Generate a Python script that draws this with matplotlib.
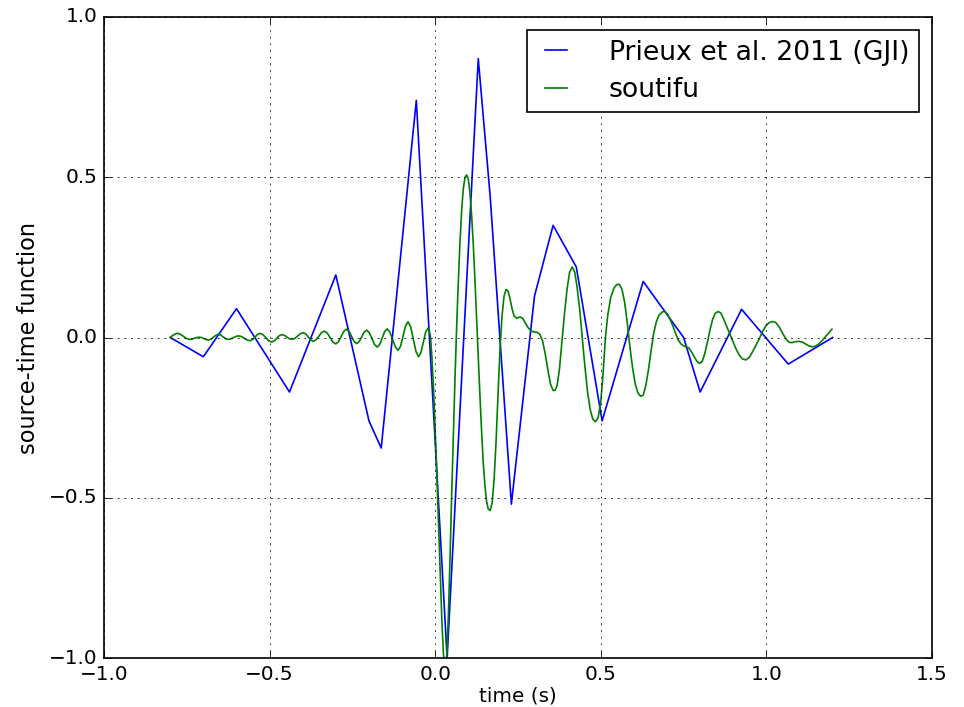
import matplotlib
matplotlib.use("Agg")
import matplotlib.pyplot as plt

plt.style.use("classic")

# Prieux et al. 2011 (GJI) source wavelet
prieux_t = [-0.800, -0.700, -0.600, -0.440, -0.300, -0.200, -0.163, -0.057, 0.036,
            0.130, 0.166, 0.230, 0.300, 0.356, 0.426, 0.504, 0.628, 0.750, 0.800,
            0.925, 1.066, 1.200]
prieux_v = [0.000, -0.060, 0.090, -0.170, 0.195, -0.260, -0.345, 0.740, -1.000,
            0.870, 0.440, -0.520, 0.130, 0.350, 0.220, -0.260, 0.175, 0.000, -0.170,
            0.088, -0.083, 0.000]

# soutifu wavelet, (time, value)
soutifu_pts = [
    (-0.800, 0.000), (-0.792, 0.007), (-0.785, 0.011), (-0.778, 0.013),
    (-0.769, 0.010), (-0.760, 0.0035), (-0.751, -0.003), (-0.742, -0.006),
    (-0.735, -0.005), (-0.7275, -0.0025), (-0.720, 0.000), (-0.713, 0.001),
    (-0.706, 0.000), (-0.6985, -0.0035), (-0.691, -0.007), (-0.684, -0.008),
    (-0.677, -0.005), (-0.6695, 0.001), (-0.662, 0.007), (-0.655, 0.010),
    (-0.6475, 0.0077), (-0.640, 0.002), (-0.6325, -0.0037), (-0.625, -0.006),
    (-0.617, -0.0044), (-0.6095, -0.0005), (-0.602, 0.0034), (-0.594, 0.005),
    (-0.585, 0.003), (-0.5765, -0.0025), (-0.568, -0.008), (-0.559, -0.010),
    (-0.5515, -0.0066), (-0.544, 0.0015), (-0.5365, 0.0096), (-0.529, 0.013),
    (-0.520, 0.009), (-0.5115, -0.0005), (-0.503, -0.010), (-0.494, -0.014),
    (-0.486, -0.0106), (-0.4785, -0.0025), (-0.471, 0.0056), (-0.463, 0.009),
    (-0.4555, 0.0068), (-0.448, 0.0015), (-0.4405, -0.0038), (-0.433, -0.006),
    (-0.424, -0.003), (-0.4155, 0.0045), (-0.407, 0.012), (-0.398, 0.015),
    (-0.3905, 0.011), (-0.383, 0.0015), (-0.3755, -0.008), (-0.368, -0.012),
    (-0.360, -0.0073), (-0.3515, 0.004), (-0.343, 0.0153), (-0.335, 0.020),
    (-0.326, 0.014), (-0.3175, 0.000), (-0.309, -0.014), (-0.300, -0.020),
    (-0.292, -0.013), (-0.284, 0.003), (-0.276, 0.019), (-0.268, 0.026),
    (-0.260, 0.0194), (-0.2525, 0.0035), (-0.245, -0.0124), (-0.237, -0.019),
    (-0.2295, -0.0128), (-0.222, 0.002), (-0.2145, 0.0168), (-0.207, 0.023),
    (-0.199, 0.015), (-0.191, -0.0035), (-0.183, -0.022), (-0.175, -0.030),
    (-0.1675, -0.0217), (-0.160, -0.0015), (-0.1525, 0.0187), (-0.145, 0.027),
    (-0.137, 0.017), (-0.1285, -0.0065), (-0.120, -0.030), (-0.112, -0.040),
    (-0.1045, -0.027), (-0.097, 0.0045), (-0.0895, 0.036), (-0.082, 0.049),
    (-0.074, 0.033), (-0.066, -0.0055), (-0.058, -0.044), (-0.050, -0.060),
    (-0.043, -0.047), (-0.036, -0.0155), (-0.029, 0.016), (-0.022, 0.029),
    (-0.018, 0.024), (-0.014, 0.000), (-0.010, -0.060), (-0.005, -0.160),
    (0.000, -0.290), (0.005, -0.430), (0.010, -0.580), (0.015, -0.740),
    (0.020, -0.880), (0.025, -0.990), (0.030, -1.030), (0.035, -0.990),
    (0.040, -0.860), (0.045, -0.680), (0.050, -0.480), (0.055, -0.300),
    (0.060, -0.120), (0.065, 0.040), (0.070, 0.180), (0.075, 0.300),
    (0.080, 0.400), (0.085, 0.465), (0.090, 0.500), (0.095, 0.507),
    (0.100, 0.495), (0.105, 0.450), (0.110, 0.380), (0.115, 0.290),
    (0.120, 0.180), (0.125, 0.060), (0.130, -0.060), (0.135, -0.180),
    (0.140, -0.290), (0.145, -0.390), (0.150, -0.460), (0.155, -0.510),
    (0.160, -0.535), (0.166, -0.540), (0.172, -0.515), (0.178, -0.440),
    (0.184, -0.320), (0.190, -0.170), (0.196, -0.030), (0.202, 0.070),
    (0.208, 0.130), (0.214, 0.150), (0.220, 0.145), (0.226, 0.120),
    (0.232, 0.090), (0.238, 0.068), (0.246, 0.060), (0.256, 0.064),
    (0.264, 0.060), (0.272, 0.045), (0.281, 0.030), (0.290, 0.020),
    (0.300, 0.017), (0.308, 0.016), (0.316, 0.010), (0.324, -0.010),
    (0.332, -0.050), (0.340, -0.100), (0.348, -0.145), (0.356, -0.165),
    (0.362, -0.165), (0.368, -0.150), (0.375, -0.100), (0.382, -0.020),
    (0.390, 0.070), (0.398, 0.150), (0.406, 0.205), (0.414, 0.220),
    (0.421, 0.205), (0.428, 0.160), (0.436, 0.090), (0.444, 0.000),
    (0.452, -0.090), (0.460, -0.170), (0.468, -0.225), (0.476, -0.255),
    (0.484, -0.263), (0.492, -0.250), (0.500, -0.200), (0.507, -0.110),
    (0.514, 0.000), (0.521, 0.070), (0.530, 0.125), (0.540, 0.155),
    (0.548, 0.165), (0.556, 0.166), (0.564, 0.150), (0.572, 0.110),
    (0.580, 0.045), (0.588, -0.030), (0.596, -0.095), (0.604, -0.145),
    (0.612, -0.173), (0.620, -0.183), (0.628, -0.180), (0.636, -0.150),
    (0.644, -0.100), (0.652, -0.040), (0.660, 0.015), (0.668, 0.050),
    (0.676, 0.070), (0.686, 0.080), (0.694, 0.081), (0.702, 0.072),
    (0.710, 0.055), (0.718, 0.035), (0.726, 0.012), (0.734, -0.008),
    (0.742, -0.020), (0.750, -0.026), (0.758, -0.029), (0.766, -0.033),
    (0.774, -0.045), (0.782, -0.060), (0.790, -0.074), (0.798, -0.081),
    (0.806, -0.075), (0.814, -0.050), (0.822, -0.015), (0.830, 0.025),
    (0.838, 0.058), (0.846, 0.076), (0.854, 0.081), (0.862, 0.077),
    (0.870, 0.060), (0.878, 0.040), (0.888, 0.015), (0.898, -0.010),
    (0.908, -0.035), (0.918, -0.055), (0.928, -0.067), (0.938, -0.070),
    (0.948, -0.062), (0.958, -0.045), (0.968, -0.025), (0.978, -0.005),
    (0.988, 0.018), (0.998, 0.036), (1.008, 0.046), (1.018, 0.050),
    (1.028, 0.047), (1.038, 0.034), (1.048, 0.015), (1.058, -0.003),
    (1.068, -0.015), (1.078, -0.016), (1.088, -0.013), (1.098, -0.012),
    (1.108, -0.014), (1.118, -0.020), (1.128, -0.026), (1.138, -0.029),
    (1.148, -0.027), (1.158, -0.020), (1.168, -0.010), (1.178, 0.002),
    (1.188, 0.014), (1.198, 0.026),
]
soutifu_t = [p[0] for p in soutifu_pts]
soutifu_v = [p[1] for p in soutifu_pts]

fig = plt.figure(figsize=(965 / 120.0, 707 / 120.0), facecolor="white")
ax = fig.add_axes([104 / 965.0, 49 / 707.0, 828 / 965.0, 641 / 707.0])

ax.plot(prieux_t, prieux_v, "b-", lw=1.0, label="Prieux et al. 2011 (GJI)")
ax.plot(soutifu_t, soutifu_v, "g-", lw=1.0, label="soutifu")

ax.set_xlim(-1.0, 1.5)
ax.set_ylim(-1.0, 1.0)
ax.set_xticks([-1.0, -0.5, 0.0, 0.5, 1.0, 1.5])
ax.set_yticks([-1.0, -0.5, 0.0, 0.5, 1.0])
ax.grid(True)
ax.tick_params(labelsize=12)
ax.set_xlabel("time (s)", fontsize=12, labelpad=2)
ax.set_ylabel("source-time function", fontsize=13.5)

ax.legend(loc="upper right", fontsize=16, handlelength=1.45, handletextpad=1.25,
          labelspacing=0.42, borderpad=0.35)

fig.savefig("out.png", dpi=120, facecolor="white")
